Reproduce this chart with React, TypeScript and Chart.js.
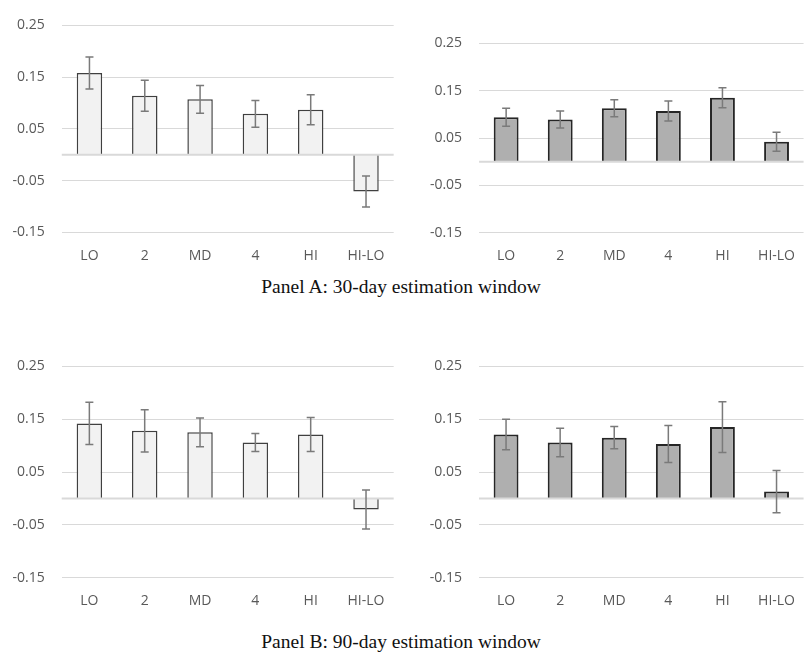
import React, { useEffect, useRef } from 'react';
import { Chart, registerables } from 'chart.js';

Chart.register(...registerables);

// ---- data ----
const categories = ['LO', '2', 'MD', '4', 'HI', 'HI-LO'];
const yTickValues = [-0.15, -0.05, 0.05, 0.15, 0.25];

const panelA_left_mean = [0.158, 0.114, 0.107, 0.079, 0.087, -0.071];
const panelA_left_err = [0.031, 0.030, 0.027, 0.026, 0.029, 0.030];

const panelA_right_mean = [0.094, 0.089, 0.113, 0.107, 0.135, 0.042];
const panelA_right_err = [0.019, 0.018, 0.018, 0.021, 0.021, 0.020];

const panelB_left_mean = [0.142, 0.128, 0.125, 0.106, 0.121, -0.021];
const panelB_left_err = [0.040, 0.040, 0.027, 0.017, 0.032, 0.037];

const panelB_right_mean = [0.121, 0.106, 0.115, 0.103, 0.135, 0.013];
const panelB_right_err = [0.029, 0.027, 0.021, 0.035, 0.048, 0.040];

const captionA = 'Panel A: 30-day estimation window';
const captionB = 'Panel B: 90-day estimation window';

const errorBarPlugin = {
  id: 'errorBars',
  afterDatasetsDraw(chart: any, _args: any, opts: any) {
    const { ctx, chartArea } = chart;
    const y = chart.scales.y;
    ctx.save();
    // zero axis line
    const y0 = y.getPixelForValue(0);
    ctx.strokeStyle = '#d9d9d9';
    ctx.lineWidth = 2;
    ctx.beginPath();
    ctx.moveTo(chartArea.left, y0);
    ctx.lineTo(chartArea.right, y0);
    ctx.stroke();
    // error bars
    const errs: number[] = opts.errors || [];
    const vals: number[] = chart.data.datasets[0].data;
    const meta = chart.getDatasetMeta(0);
    ctx.strokeStyle = '#7a7a7a';
    ctx.lineWidth = 1.5;
    meta.data.forEach((bar: any, i: number) => {
      const x = bar.x;
      const t = y.getPixelForValue(vals[i] + errs[i]);
      const b = y.getPixelForValue(vals[i] - errs[i]);
      ctx.beginPath();
      ctx.moveTo(x, t);
      ctx.lineTo(x, b);
      ctx.moveTo(x - 4, t);
      ctx.lineTo(x + 4, t);
      ctx.moveTo(x - 4, b);
      ctx.lineTo(x + 4, b);
      ctx.stroke();
    });
    ctx.restore();
  },
};

type PanelProps = {
  mean: number[];
  err: number[];
  fill: string;
  stroke: string;
  strokeW: number;
  left: number;
  top: number;
  width: number;
  height: number;
  padTop: number;
  padRight: number;
  yW: number;
  xH: number;
};

function Panel(p: PanelProps) {
  const ref = useRef<HTMLCanvasElement>(null);
  useEffect(() => {
    if (!ref.current) return;
    const font = { family: '"Open Sans", sans-serif', size: 14 };
    const chart = new Chart(ref.current, {
      type: 'bar',
      data: {
        labels: categories,
        datasets: [
          {
            data: p.mean,
            backgroundColor: p.fill,
            borderColor: p.stroke,
            borderWidth: p.strokeW,
            barPercentage: 0.46,
            categoryPercentage: 1,
          },
        ],
      },
      options: {
        responsive: false,
        animation: false,
        devicePixelRatio: 1,
        layout: { padding: { top: p.padTop, right: p.padRight, left: 0, bottom: 0 } },
        plugins: {
          legend: { display: false },
          tooltip: { enabled: false },
          errorBars: { errors: p.err },
        } as any,
        scales: {
          x: {
            grid: { display: false, drawTicks: false },
            border: { display: false },
            ticks: { color: '#595959', font, padding: 15 },
            afterFit: (s: any) => {
              s.height = p.xH;
            },
          },
          y: {
            min: -0.15,
            max: 0.25,
            afterBuildTicks: (s: any) => {
              s.ticks = yTickValues.map((v) => ({ value: v }));
            },
            grid: { color: '#d9d9d9', lineWidth: 1, drawTicks: false },
            border: { display: false },
            ticks: {
              color: '#595959',
              font,
              padding: 17,
              callback: (v: any) => Number(v).toFixed(2),
            },
            afterFit: (s: any) => {
              s.width = p.yW;
            },
          },
        },
      },
      plugins: [errorBarPlugin],
    });
    return () => chart.destroy();
  }, []);
  return (
    <canvas
      ref={ref}
      width={p.width}
      height={p.height}
      style={{ position: 'absolute', left: p.left, top: p.top, width: p.width, height: p.height }}
    />
  );
}

const captionStyle: React.CSSProperties = {
  position: 'absolute',
  left: 0,
  width: 802,
  textAlign: 'center',
  fontFamily: '"Liberation Serif", "Times New Roman", serif',
  fontSize: 19.5,
  lineHeight: 1,
  color: '#111',
  whiteSpace: 'nowrap',
};

export default function App() {
  return (
    <div
      style={{
        position: 'absolute',
        left: 0,
        top: 0,
        width: 804,
        height: 653,
        overflow: 'hidden',
        background: '#fff',
      }}
    >
      <Panel mean={panelA_left_mean} err={panelA_left_err} fill="#f2f2f2" stroke="#404040" strokeW={1.5}
        left={0} top={0} width={400} height={270} padTop={19.3} padRight={6.2} yW={61.8} xH={37.7} />
      <Panel mean={panelA_right_mean} err={panelA_right_err} fill="#afafaf" stroke="#262626" strokeW={2}
        left={400} top={0} width={410} height={270} padTop={43.3} padRight={0} yW={79.1} xH={37.3} />
      <div style={{ ...captionStyle, top: 276.7 }}>{captionA}</div>
      <Panel mean={panelB_left_mean} err={panelB_left_err} fill="#f2f2f2" stroke="#404040" strokeW={1.5}
        left={0} top={330} width={400} height={290} padTop={36.3} padRight={6.2} yW={61.7} xH={42.3} />
      <Panel mean={panelB_right_mean} err={panelB_right_err} fill="#afafaf" stroke="#262626" strokeW={2}
        left={400} top={330} width={410} height={290} padTop={36.3} padRight={0} yW={79} xH={42.3} />
      <div style={{ ...captionStyle, top: 631.7 }}>{captionB}</div>
    </div>
  );
}
